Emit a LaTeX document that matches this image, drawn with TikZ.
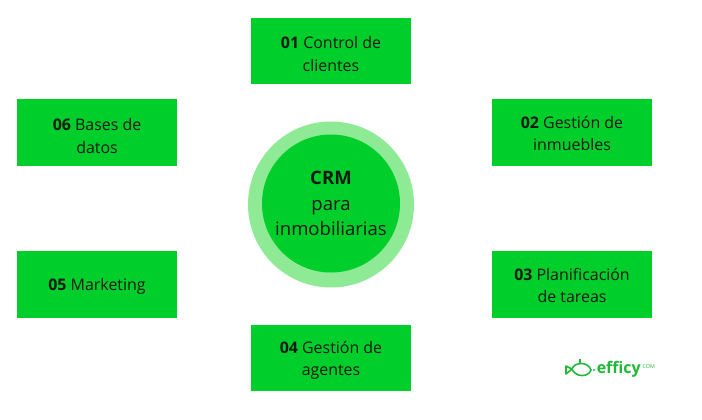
\documentclass[tikz,border=0pt]{standalone}
\usepackage{fontspec}
\setmainfont{Open Sans}
\usepackage{xcolor}
\usetikzlibrary{positioning}
\definecolor{crmgreen}{HTML}{00CE2A}
\definecolor{crmlight}{HTML}{8EEA95}
\definecolor{logogreen}{HTML}{22B83A}
\definecolor{inktext}{HTML}{111A12}
\tikzset{
  modbox/.style={fill=crmgreen,minimum width=120pt,minimum height=49.9pt,inner sep=0pt},
  modtext/.style={text=inktext,align=center,inner sep=0pt,font=\fontsize{11.95}{16.7}\selectfont},
  hub/.style={circle,fill=crmgreen,text=inktext,minimum size=103.5pt,inner sep=0pt,align=center,font=\fontsize{13.9}{19}\selectfont},
  ring/.style={circle,fill=crmlight,minimum size=124.5pt,inner sep=0pt}
}
\begin{document}
\begin{tikzpicture}[x=0.75pt,y=-0.75pt]
    \useasboundingbox (0,0) rectangle (702,419);
    \fill[white] (0,0) rectangle (702,419);
    \node[ring] (outer) at (331,204.5) {};
    \node[hub] (crm) at (331,203.5) {\textbf{CRM}\\para\\inmobiliarias};
    \node[modbox] (control) at (331,51) {};
    \node[modtext] (controltxt) at (331,54) {\textbf{01} Control de\\clientes};
    \node[modbox] (inmuebles) at (572,132.5) {};
    \node[modtext] (inmueblestxt) at (572,133.5) {\textbf{02} Gestión de\\inmuebles};
    \node[modbox] (tareas) at (572,284.5) {};
    \node[modtext] (tareastxt) at (572,285.5) {\textbf{03} Planificación\\de tareas};
    \node[modbox] (agentes) at (331,358) {};
    \node[modtext] (agentestxt) at (331,360) {\textbf{04} Gestión de\\agentes};
    \node[modbox] (marketing) at (97,284.5) {};
    \node[modtext] (marketingtxt) at (97,286.5) {\textbf{05} Marketing};
    \node[modbox] (datos) at (97,132.5) {};
    \node[modtext] (datostxt) at (97,136) {\textbf{06} Bases de\\datos};
    % logo
    \draw[logogreen,line width=1.2pt] (572,369) .. controls (574,362) and (588,361) .. (591,370) .. controls (588,378) and (575,377) .. (572,369) -- cycle;
    \draw[logogreen,line width=1.2pt,line join=round] (572,369) -- (566,366) -- (566,374) -- (572,369);
    \draw[logogreen,line width=1.2pt] (580,364) -- (580,359);
    \fill[logogreen] (594,370) circle (1.2);
    \node[inner sep=0pt,anchor=west,text=logogreen,font=\fontsize{12}{12}\selectfont\bfseries] (logo) at (596.5,369.5) {efficy};
    \node[inner sep=0pt,anchor=west,text=logogreen,font=\fontsize{4}{4}\selectfont,right=1pt of logo,yshift=2pt] (logocom) {COM};
\end{tikzpicture}
\end{document}
